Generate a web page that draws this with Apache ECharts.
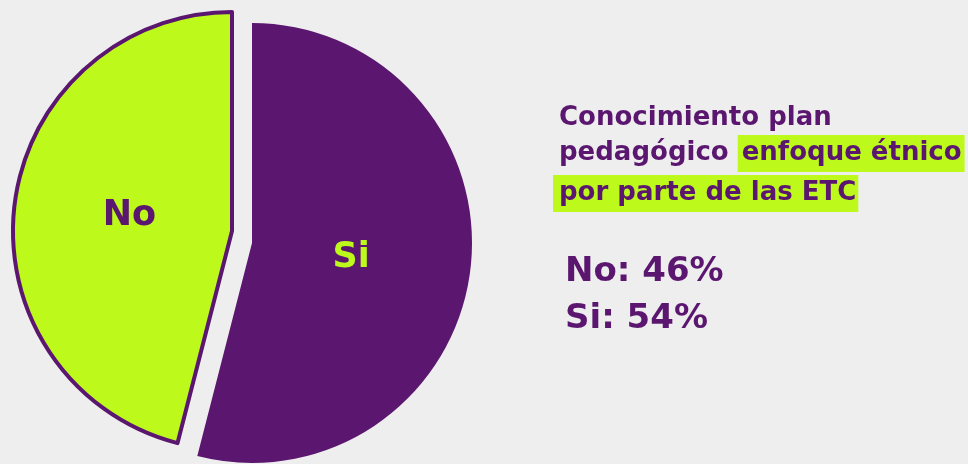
<!DOCTYPE html>
<html><head><meta charset="utf-8">
<script src="https://cdn.jsdelivr.net/npm/echarts@6/dist/echarts.min.js"></script>
<style>html,body{margin:0;padding:0;background:#eeeeee;}#c{width:968px;height:464px;}</style>
</head><body><div id="c"></div>
<script>
const categories = ['Si', 'No'];
const values = [54, 46];
const titleLines = ['Conocimiento plan', 'pedagógico ', 'enfoque étnico', 'por parte de las ETC'];

const PURPLE = '#5b176f';
const LIME = '#bdfa1c';
const FONT = '"DejaVu Sans", "Open Sans", sans-serif';

const chart = echarts.init(document.getElementById('c'), null, {renderer: 'canvas'});

function pieData(showIdx) {
  return categories.map((c, i) => {
    const show = i === showIdx;
    const isSi = c === 'Si';
    return {
      name: c,
      value: values[i],
      itemStyle: show ? {
        color: isSi ? PURPLE : LIME,
        borderColor: PURPLE,
        borderWidth: isSi ? 0 : 4
      } : {color: 'rgba(0,0,0,0)', borderWidth: 0},
      label: show ? {
        show: true, position: 'inside', formatter: '{b}',
        color: isSi ? LIME : PURPLE, fontSize: 35, fontWeight: 'bold', fontFamily: FONT
      } : {show: false}
    };
  });
}

chart.setOption({
  backgroundColor: '#eeeeee',
  animation: false,
  series: [
    {
      type: 'pie', center: [252, 243], radius: 220, startAngle: 90, clockwise: true,
      silent: true, labelLine: {show: false}, labelLayout: {dx: -13, dy: 1}, data: pieData(0)
    },
    {
      type: 'pie', center: [232, 231], radius: 219, startAngle: 90, clockwise: true,
      silent: true, labelLine: {show: false}, labelLayout: {dx: 9, dy: -1}, data: pieData(1)
    }
  ],
  graphic: [
    {type: 'text', left: 559, top: 105, style: {text: titleLines[0], fill: PURPLE, font: 'bold 26px ' + FONT}},
    {type: 'text', left: 559, top: 135, style: {
      text: '{a|' + titleLines[1] + '}{h|' + titleLines[2] + '}',
      rich: {
        a: {fill: PURPLE, font: 'bold 26px ' + FONT, height: 37},
        h: {fill: PURPLE, font: 'bold 26px ' + FONT, backgroundColor: LIME, padding: [4, 3, 4, 4], height: 29}
      }}},
    {type: 'text', left: 553, top: 175, style: {
      text: '{h|' + titleLines[3] + '}',
      rich: {h: {fill: PURPLE, font: 'bold 26px ' + FONT, backgroundColor: LIME, padding: [4, 2, 4, 6], height: 29}}}},
    {type: 'text', left: 565, top: 249, style: {
      text: categories[1] + ': ' + values[1] + '%\n' + categories[0] + ': ' + values[0] + '%',
      fill: PURPLE, font: 'bold 34px ' + FONT, lineHeight: 47}}
  ]
});
</script></body></html>
